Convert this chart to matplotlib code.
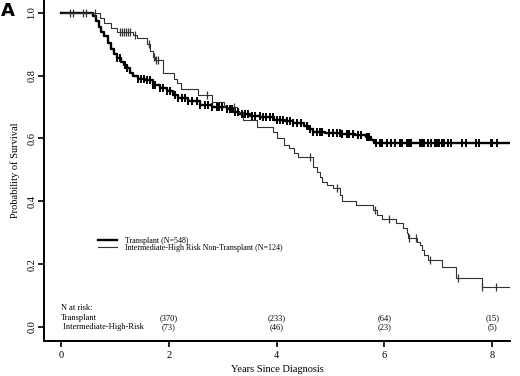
import numpy as np
import matplotlib
matplotlib.use('Agg')
import matplotlib.pyplot as plt

plt.rcParams['font.family'] = ['Liberation Serif', 'DejaVu Serif']

# Kaplan-Meier steps (years, survival)
tx_t = [0, 0.59, 0.65, 0.70, 0.74, 0.80, 0.87, 0.93, 0.98, 1.04, 1.11, 1.17, 1.22,
        1.28, 1.33, 1.43, 1.55, 1.70, 1.83, 1.96, 2.07, 2.17, 2.35, 2.57, 2.80,
        3.07, 3.20, 3.31, 3.50, 3.70, 3.95, 4.15, 4.30, 4.50, 4.60, 4.67, 4.90,
        5.22, 5.45, 5.65, 5.75, 5.81, 8.31]
tx_s = [1.0, 0.99, 0.975, 0.955, 0.94, 0.925, 0.905, 0.885, 0.87, 0.855, 0.845, 0.835, 0.825,
        0.81, 0.80, 0.79, 0.785, 0.77, 0.76, 0.75, 0.74, 0.73, 0.72, 0.707, 0.70,
        0.695, 0.685, 0.678, 0.672, 0.667, 0.66, 0.655, 0.648, 0.64, 0.63, 0.62, 0.618,
        0.615, 0.61, 0.604, 0.595, 0.585, 0.585]

nt_t = [0, 0.72, 0.80, 0.93, 1.04, 1.33, 1.41, 1.59, 1.65, 1.70, 1.74, 1.89, 2.09,
        2.15, 2.22, 2.54, 2.81, 3.02, 3.26, 3.37, 3.63, 3.93, 4.00, 4.13, 4.22,
        4.33, 4.39, 4.67, 4.74, 4.80, 4.85, 4.94, 5.04, 5.17, 5.22, 5.48, 5.78,
        5.87, 5.96, 6.22, 6.35, 6.41, 6.43, 6.61, 6.65, 6.69, 6.74, 6.80, 7.06,
        7.33, 7.80, 8.31]
nt_s = [1.0, 0.984, 0.968, 0.952, 0.94, 0.93, 0.92, 0.90, 0.88, 0.86, 0.85, 0.81, 0.79,
        0.777, 0.758, 0.74, 0.717, 0.70, 0.685, 0.66, 0.637, 0.62, 0.60, 0.58, 0.57,
        0.554, 0.54, 0.51, 0.494, 0.478, 0.462, 0.452, 0.443, 0.42, 0.40, 0.388, 0.373,
        0.357, 0.344, 0.33, 0.315, 0.30, 0.283, 0.27, 0.26, 0.245, 0.23, 0.213, 0.19,
        0.156, 0.128, 0.128]

# censored observations (years)
tx_cens = [1.04, 1.09, 1.19, 1.22, 1.43, 1.48, 1.54, 1.59, 1.65, 1.70, 1.74,
           1.83, 1.89, 1.96, 2.02, 2.11, 2.17, 2.24, 2.30, 2.35, 2.43, 2.52, 2.57, 2.67,
           2.72, 2.81, 2.89, 2.94, 2.98, 3.07, 3.13, 3.17, 3.22, 3.28, 3.35, 3.41, 3.46,
           3.54, 3.59, 3.69, 3.74, 3.81, 3.87, 3.93, 4.00, 4.06, 4.11, 4.19,
           4.24, 4.30, 4.37, 4.46, 4.56, 4.61, 4.67, 4.74, 4.80, 4.85, 4.98, 5.04, 5.11,
           5.17, 5.22, 5.30, 5.35, 5.41, 5.50, 5.57, 5.67, 5.72, 5.85, 5.91, 5.96, 6.04,
           6.13, 6.19, 6.28, 6.33, 6.41, 6.46, 6.50, 6.65, 6.69, 6.74, 6.80, 6.87, 6.93,
           6.98, 7.02, 7.06, 7.07, 7.11, 7.17, 7.24, 7.44, 7.52, 7.70, 7.76, 7.98, 8.00, 8.09]
nt_cens = [0.17, 0.22, 0.41, 0.46, 0.63, 1.09, 1.13, 1.17, 1.20, 1.24, 1.28, 1.37,
           1.63, 1.72, 1.76, 1.80, 2.70, 3.20, 4.61, 5.11, 5.83, 6.09, 6.46, 6.59,
           6.85, 7.37, 7.81, 8.07]

risk_years = [2, 4, 6, 8]
risk_tx = [370, 233, 64, 15]
risk_nt = [73, 46, 23, 5]


def surv_at(times, surv, x):
    idx = np.searchsorted(times, x, side='right') - 1
    return np.array(surv)[idx]


fig = plt.figure(figsize=(5.2, 3.76), dpi=100)
ax = fig.add_axes([0.0846, 0.093, 0.8964, 0.907])

ax.step(tx_t, tx_s, where='post', color='black', lw=1.7, label='Transplant (N=548)')
ax.step(nt_t, nt_s, where='post', color='#333333', lw=0.8,
        label='Intermediate-High Risk Non-Transplant (N=124)')
ax.plot(tx_cens, surv_at(tx_t, tx_s, tx_cens), ls='none', marker='|',
        ms=6, mew=1.4, color='black')
ax.plot(nt_cens, surv_at(nt_t, nt_s, nt_cens), ls='none', marker='|',
        ms=5.5, mew=0.9, color='#333333')

ax.set_xlim(-0.315, 8.33)
ax.set_ylim(-0.045, 1.041)
ax.set_xticks([0, 2, 4, 6, 8])
ax.set_yticks([0.0, 0.2, 0.4, 0.6, 0.8, 1.0])
ax.set_yticklabels(['0.0', '0.2', '0.4', '0.6', '0.8', '1.0'], rotation=90, va='center')
ax.tick_params(labelsize=7.5, width=1.2, length=4)
ax.tick_params(axis='y', pad=1.5)
ax.spines['top'].set_visible(False)
ax.spines['right'].set_visible(False)
ax.spines['left'].set_linewidth(1.4)
ax.spines['bottom'].set_linewidth(1.4)
ax.set_xlabel('Years Since Diagnosis', fontsize=7.5, labelpad=3)
ax.set_ylabel('Probability of Survival', fontsize=7.5, labelpad=5)

ax.legend(loc='upper left', bbox_to_anchor=(0.108, 0.318), frameon=False,
          fontsize=5.8, handlelength=2.3, handletextpad=1.0, labelspacing=-0.05,
          borderpad=0)

ax.text(0, 0.06, 'N at risk:', fontsize=6, va='center')
ax.text(0, 0.029, 'Transplant', fontsize=6, va='center')
ax.text(0, 0.0, ' Intermediate-High-Risk', fontsize=6, va='center')
for x, a, b in zip(risk_years, risk_tx, risk_nt):
    ax.text(x, 0.029, f'({a})', fontsize=6, va='center', ha='center')
    ax.text(x, 0.0, f'({b})', fontsize=6, va='center', ha='center')

fig.text(0.002, 0.995, 'A', fontsize=13, fontweight='bold', family='DejaVu Sans',
         va='top', ha='left')

fig.savefig('out.png', dpi=100)
